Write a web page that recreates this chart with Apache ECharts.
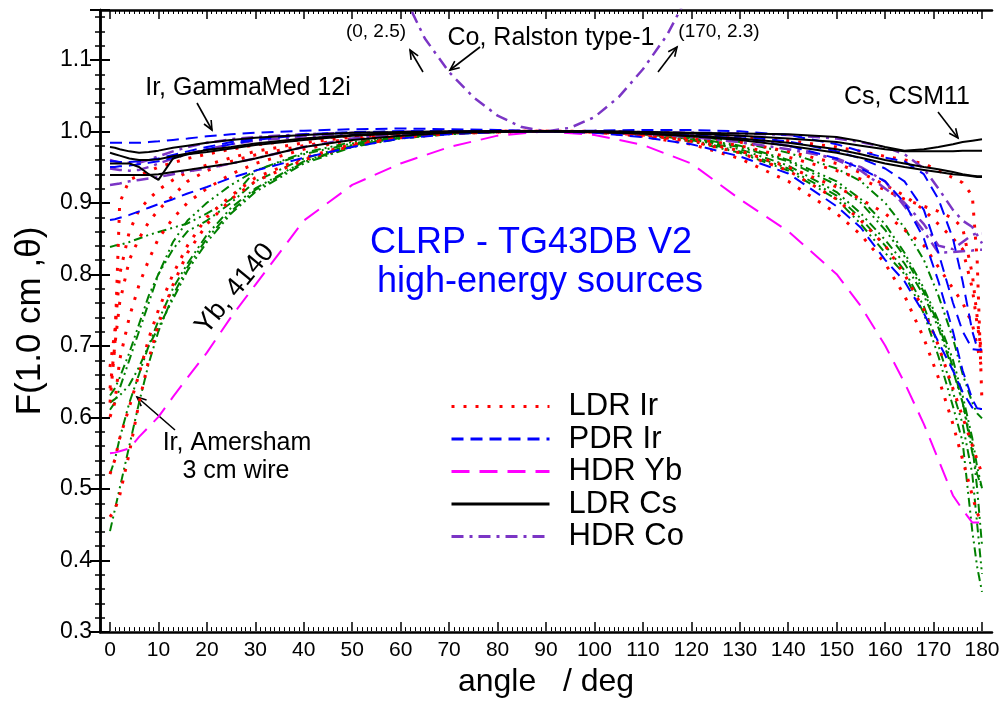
<!DOCTYPE html>
<html>
<head>
<meta charset="utf-8">
<script src="https://cdn.jsdelivr.net/npm/echarts@6/dist/echarts.min.js"></script>
<style>html,body{margin:0;padding:0;background:#fff}</style>
</head>
<body>
<div id="chart" style="width:1005px;height:703px"></div>
<script>
// polar angle grid shared by all source curves (deg)
const ANGLES = [0, 1, 2, 4, 6, 8, 10, 13, 16, 20, 25, 30, 40, 50, 60, 70, 80, 90, 100, 110, 120, 130, 140,
  150, 155, 160, 164, 168, 171, 174, 176, 178, 179, 180];

// LDR Ir (red dotted)
const LDR_IR_1 = [0.62, 0.70, 0.90, 0.932, 0.938, 0.944, 0.95, 0.956, 0.962, 0.968, 0.975, 0.981,
  0.989, 0.994, 0.997, 0.999, 1.0, 1.0, 1.0, 0.999, 0.997, 0.993, 0.987,
  0.978, 0.972, 0.965, 0.96, 0.955, 0.945, 0.935, 0.928, 0.91, 0.82, 0.62];
const LDR_IR_2 = [0.67, 0.72, 0.80, 0.86, 0.89, 0.905, 0.918, 0.932, 0.943, 0.953, 0.963, 0.972,
  0.984, 0.992, 0.997, 0.999, 1.0, 1.0, 0.999, 0.997, 0.993, 0.985, 0.972,
  0.955, 0.942, 0.925, 0.91, 0.89, 0.87, 0.85, 0.835, 0.78, 0.73, 0.69];
const LDR_IR_3 = [0.64, 0.70, 0.76, 0.82, 0.85, 0.873, 0.89, 0.91, 0.93, 0.945, 0.958, 0.967,
  0.98, 0.99, 0.996, 0.999, 1.0, 1.0, 0.999, 0.996, 0.99, 0.98, 0.964,
  0.945, 0.933, 0.918, 0.905, 0.895, 0.888, 0.878, 0.865, 0.80, 0.74, 0.68];
const LDR_IR_4 = [0.60, 0.62, 0.68, 0.74, 0.785, 0.82, 0.85, 0.878, 0.90, 0.92, 0.94, 0.955,
  0.975, 0.988, 0.995, 0.998, 1.0, 1.0, 0.999, 0.995, 0.987, 0.973, 0.95,
  0.922, 0.905, 0.885, 0.862, 0.84, 0.81, 0.78, 0.76, 0.73, 0.70, 0.666];
const LDR_IR_5 = [0.52, 0.54, 0.57, 0.614, 0.66, 0.71, 0.75, 0.80, 0.84, 0.88, 0.91, 0.935,
  0.963, 0.982, 0.992, 0.997, 0.999, 1.0, 0.999, 0.995, 0.986, 0.97, 0.945,
  0.905, 0.875, 0.84, 0.80, 0.75, 0.70, 0.64, 0.60, 0.56, 0.54, 0.52];
const LDR_IR_6 = [0.46, 0.47, 0.49, 0.55, 0.62, 0.68, 0.73, 0.785, 0.83, 0.87, 0.905, 0.93,
  0.96, 0.98, 0.991, 0.997, 0.999, 1.0, 0.999, 0.993, 0.982, 0.962, 0.93,
  0.885, 0.855, 0.815, 0.77, 0.71, 0.655, 0.59, 0.54, 0.49, 0.465, 0.454];

// PDR Ir (blue dashed)
const PDR_IR_1 = [0.984, 0.984, 0.984, 0.984, 0.984, 0.985, 0.986, 0.988, 0.99, 0.993, 0.996, 0.998,
  1.001, 1.003, 1.004, 1.003, 1.002, 1.0, 1.001, 1.002, 1.002, 1.0, 0.995,
  0.982, 0.972, 0.963, 0.958, 0.94, 0.905, 0.85, 0.79, 0.72, 0.697, 0.694];
const PDR_IR_2 = [0.958, 0.958, 0.957, 0.957, 0.958, 0.96, 0.962, 0.967, 0.972, 0.978, 0.985, 0.99,
  0.996, 0.999, 1.0, 1.0, 1.0, 1.0, 1.0, 0.999, 0.997, 0.993, 0.986,
  0.972, 0.962, 0.948, 0.93, 0.89, 0.83, 0.76, 0.72, 0.695, 0.694, 0.694];
const PDR_IR_3 = [0.95, 0.95, 0.951, 0.952, 0.954, 0.956, 0.958, 0.963, 0.968, 0.975, 0.982, 0.988,
  0.995, 0.998, 1.0, 1.0, 1.0, 1.0, 1.0, 0.998, 0.995, 0.99, 0.98,
  0.962, 0.948, 0.93, 0.9, 0.85, 0.79, 0.72, 0.665, 0.625, 0.612, 0.611];
const PDR_IR_4 = [0.876, 0.877, 0.879, 0.883, 0.888, 0.893, 0.898, 0.905, 0.913, 0.922, 0.935, 0.945,
  0.963, 0.978, 0.99, 0.996, 0.999, 1.0, 0.998, 0.992, 0.982, 0.965, 0.941,
  0.895, 0.865, 0.82, 0.79, 0.745, 0.705, 0.665, 0.635, 0.613, 0.611, 0.611];

// HDR Yb 4140 (magenta long dash)
const HDR_YB = [0.549, 0.55, 0.552, 0.556, 0.572, 0.586, 0.60, 0.628, 0.655, 0.69, 0.74, 0.785,
  0.875, 0.925, 0.955, 0.978, 0.994, 1.0, 0.995, 0.981, 0.955, 0.905, 0.86,
  0.80, 0.755, 0.70, 0.648, 0.59, 0.54, 0.49, 0.47, 0.452, 0.452, 0.452];

// LDR Cs (black solid)
const LDR_CS_1 = [0.978, 0.977, 0.975, 0.972, 0.97, 0.971, 0.973, 0.977, 0.98, 0.984, 0.988, 0.991,
  0.995, 0.998, 0.999, 1.0, 1.0, 1.0, 1.0, 0.999, 0.998, 0.997, 0.996,
  0.992, 0.986, 0.978, 0.973, 0.975, 0.978, 0.982, 0.985, 0.987, 0.988, 0.989];
const LDR_CS_2 = [0.97, 0.968, 0.966, 0.962, 0.96, 0.96, 0.961, 0.965, 0.969, 0.974, 0.978, 0.983,
  0.99, 0.995, 0.998, 0.999, 1.0, 1.0, 1.0, 0.999, 0.997, 0.994, 0.99,
  0.985, 0.98, 0.975, 0.972, 0.972, 0.972, 0.972, 0.973, 0.973, 0.973, 0.973];
const LDR_CS_3 = [0.955, 0.955, 0.955, 0.955, 0.95, 0.94, 0.932, 0.962, 0.968, 0.971, 0.976, 0.981,
  0.988, 0.994, 0.997, 0.999, 1.0, 1.0, 0.999, 0.997, 0.994, 0.99, 0.984,
  0.975, 0.968, 0.96, 0.955, 0.95, 0.947, 0.943, 0.94, 0.938, 0.937, 0.937];
const LDR_CS_4 = [0.939, 0.939, 0.939, 0.939, 0.939, 0.939, 0.94, 0.943, 0.946, 0.95, 0.955, 0.962,
  0.978, 0.988, 0.994, 0.998, 0.999, 1.0, 0.999, 0.997, 0.993, 0.988, 0.98,
  0.97, 0.963, 0.955, 0.95, 0.946, 0.943, 0.94, 0.939, 0.937, 0.936, 0.936];

// HDR Co (purple dash-dot)
const HDR_CO_1 = [0.96, 0.958, 0.956, 0.956, 0.956, 0.96, 0.965, 0.972, 0.978, 0.984, 0.989, 0.992,
  0.996, 0.998, 0.999, 1.0, 1.0, 1.0, 1.0, 0.999, 0.998, 0.997, 0.995,
  0.99, 0.985, 0.978, 0.968, 0.948, 0.92, 0.89, 0.875, 0.866, 0.855, 0.843];
const HDR_CO_2 = [0.925, 0.926, 0.927, 0.93, 0.932, 0.934, 0.936, 0.94, 0.944, 0.948, 0.955, 0.962,
  0.978, 0.99, 0.996, 0.999, 1.0, 1.0, 0.999, 0.997, 0.992, 0.985, 0.975,
  0.962, 0.95, 0.93, 0.895, 0.86, 0.83, 0.831, 0.832, 0.833, 0.834, 0.834];
const HDR_CO_3 = [0.948, 0.947, 0.946, 0.945, 0.946, 0.95, 0.955, 0.962, 0.968, 0.975, 0.982, 0.987,
  0.993, 0.997, 0.999, 1.0, 1.0, 1.0, 1.0, 0.998, 0.995, 0.99, 0.98,
  0.96, 0.945, 0.92, 0.9, 0.87, 0.84, 0.835, 0.845, 0.855, 0.857, 0.857];
// Co, Ralston type-1 has its own sampling
const RALSTON_ANGLES = [0, 20, 40, 50, 60, 65, 70, 75, 80, 85, 90, 95, 100, 105, 110, 115, 120, 140, 160, 170];
const RALSTON = [2.5, 2.1, 1.6, 1.38, 1.2, 1.13, 1.083, 1.048, 1.022, 1.006, 1.0, 1.005, 1.02, 1.048,
  1.087, 1.135, 1.2, 1.55, 2.0, 2.3];

// HDR Ir (green, not in legend)
const HDR_IR_1 = [0.62, 0.625, 0.63, 0.645, 0.67, 0.70, 0.725, 0.765, 0.805, 0.845, 0.885, 0.915,
  0.955, 0.978, 0.99, 0.996, 0.999, 1.0, 0.999, 0.995, 0.986, 0.97, 0.945,
  0.905, 0.87, 0.83, 0.80, 0.745, 0.685, 0.615, 0.565, 0.44, 0.39, 0.355];
const HDR_IR_2 = [0.44, 0.47, 0.50, 0.56, 0.62, 0.675, 0.72, 0.77, 0.81, 0.85, 0.888, 0.918,
  0.957, 0.979, 0.991, 0.997, 0.999, 1.0, 0.999, 0.996, 0.988, 0.972, 0.948,
  0.91, 0.878, 0.84, 0.805, 0.755, 0.70, 0.635, 0.59, 0.52, 0.45, 0.38];
const HDR_IR_3 = [0.52, 0.54, 0.57, 0.62, 0.66, 0.70, 0.735, 0.78, 0.815, 0.855, 0.893, 0.92,
  0.958, 0.98, 0.991, 0.997, 0.999, 1.0, 0.999, 0.996, 0.989, 0.975, 0.952,
  0.915, 0.885, 0.848, 0.815, 0.77, 0.725, 0.665, 0.62, 0.55, 0.52, 0.50];
const HDR_IR_4 = [0.838, 0.84, 0.841, 0.845, 0.85, 0.855, 0.859, 0.865, 0.871, 0.885, 0.905, 0.945,
  0.968, 0.983, 0.993, 0.997, 0.999, 1.0, 1.0, 0.998, 0.994, 0.985, 0.97,
  0.948, 0.93, 0.9, 0.865, 0.82, 0.77, 0.71, 0.66, 0.62, 0.605, 0.598];
const HDR_IR_5 = [0.61, 0.62, 0.64, 0.68, 0.72, 0.76, 0.80, 0.845, 0.875, 0.90, 0.925, 0.945,
  0.97, 0.985, 0.993, 0.998, 1.0, 1.0, 1.0, 0.997, 0.991, 0.98, 0.96,
  0.93, 0.905, 0.87, 0.83, 0.78, 0.735, 0.68, 0.63, 0.57, 0.53, 0.50];
const HDR_IR_6 = [0.63, 0.64, 0.655, 0.69, 0.73, 0.77, 0.80, 0.835, 0.86, 0.875, 0.90, 0.93,
  0.962, 0.981, 0.992, 0.997, 0.999, 1.0, 0.999, 0.996, 0.99, 0.978, 0.958,
  0.925, 0.90, 0.862, 0.825, 0.775, 0.73, 0.67, 0.62, 0.56, 0.50, 0.42];

const LEGEND_NAMES = ['LDR Ir', 'PDR Ir', 'HDR Yb', 'LDR Cs', 'HDR Co'];
const Y_TICKS_MIN = 0.3, Y_TICKS_MAX = 1.17;

const FONT = 'Liberation Sans, Arial, sans-serif';

const STYLES = {
  'LDR Ir': {color: '#ff0000', type: [3, 9], width: 3},
  'PDR Ir': {color: '#0000ff', type: [12, 7], width: 2},
  'HDR Yb': {color: '#ff00ff', type: [18, 10], width: 2},
  'LDR Cs': {color: '#000000', type: 'solid', width: 2},
  'HDR Co': {color: '#7b35c5', type: [12, 6, 3, 6], width: 2.5},
  'HDR Ir': {color: '#008000', type: [9, 4, 2, 4, 2, 4], width: 2}
};

function curve(name, values, angles) {
  const xs = angles || ANGLES;
  const st = STYLES[name];
  return {
    name: name,
    type: 'line',
    xAxisIndex: 2,
    yAxisIndex: 2,
    symbol: 'none',
    silent: true,
    clip: true,
    color: st.color,
    lineStyle: {color: st.color, type: st.type, width: st.width},
    data: xs.map((a, i) => [a, values[i]])
  };
}

function arrow(x1, y1, x2, y2) {
  const a = Math.atan2(y2 - y1, x2 - x1), h = 10, s = 0.42;
  return {
    type: 'group',
    silent: true,
    children: [
      {type: 'line', shape: {x1: x1, y1: y1, x2: x2, y2: y2}, style: {stroke: '#000', lineWidth: 1.6}},
      {type: 'polyline', shape: {points: [
        [x2 - h * Math.cos(a - s), y2 - h * Math.sin(a - s)], [x2, y2],
        [x2 - h * Math.cos(a + s), y2 - h * Math.sin(a + s)]]},
        style: {stroke: '#000', lineWidth: 1.6, fill: null}}
    ]
  };
}

function note(text, x, y, size, color, rotation) {
  return {
    type: 'text', x: x, y: y, rotation: rotation || 0, silent: true,
    style: {text: text, fontSize: size, fontFamily: FONT, fill: color || '#000', align: 'center', verticalAlign: 'middle'}
  };
}

const chart = echarts.init(document.getElementById('chart'));

const frameY = {
  type: 'value', gridIndex: 0, min: Y_TICKS_MIN, max: Y_TICKS_MAX, interval: 0.1,
  axisLine: {show: true, lineStyle: {color: '#000', width: 2.5}},
  axisTick: {inside: true, length: 10, lineStyle: {color: '#000', width: 2}},
  minorTick: {show: true, splitNumber: 5, length: 5, lineStyle: {color: '#000', width: 1.5}},
  splitLine: {show: false}
};
const dataX = {
  type: 'value', gridIndex: 1, min: 0, max: 180, interval: 10,
  axisLine: {show: false},
  axisTick: {inside: true, length: 9, lineStyle: {color: '#000', width: 1.5}},
  minorTick: {show: true, splitNumber: 10, length: 4, lineStyle: {color: '#000', width: 1}},
  splitLine: {show: false}
};

const option = {
  animation: false,
  backgroundColor: '#fff',
  grid: [
    {left: 100, right: 13, top: 10, bottom: 71},   // frame
    {left: 110, right: 23, top: 10, bottom: 71}    // data (0..180 deg)
  ],
  xAxis: [
    {type: 'value', gridIndex: 0, position: 'bottom', min: 0, max: 1,
      axisLine: {show: true, lineStyle: {color: '#000', width: 2.5}},
      axisTick: {show: false}, axisLabel: {show: false}, splitLine: {show: false}},
    {type: 'value', gridIndex: 0, position: 'top', min: 0, max: 1,
      axisLine: {show: true, lineStyle: {color: '#000', width: 2.5}},
      axisTick: {show: false}, axisLabel: {show: false}, splitLine: {show: false}},
    Object.assign({}, dataX, {
      position: 'bottom',
      name: 'angle   / deg', nameLocation: 'middle', nameGap: 28,
      nameTextStyle: {fontSize: 32, fontFamily: FONT, color: '#000'},
      axisLabel: {fontSize: 21, fontFamily: FONT, color: '#000', margin: 9}
    }),
    Object.assign({}, dataX, {position: 'top', axisLabel: {show: false}})
  ],
  yAxis: [
    Object.assign({}, frameY, {
      position: 'left',
      name: 'F(1.0 cm ,θ)', nameLocation: 'middle', nameGap: 52,
      nameTextStyle: {fontSize: 35, fontFamily: FONT, color: '#000'},
      axisLabel: {fontSize: 23, fontFamily: FONT, color: '#000', margin: 8,
        formatter: v => (v > 1.15 ? '' : v.toFixed(1))}
    }),
    Object.assign({}, frameY, {position: 'right', axisLabel: {show: false}}),
    {type: 'value', gridIndex: 1, min: Y_TICKS_MIN, max: Y_TICKS_MAX, show: false}
  ],
  legend: {
    data: LEGEND_NAMES,
    orient: 'vertical',
    left: 445,
    top: 386,
    itemWidth: 98,
    itemHeight: 14,
    itemGap: 1.5,
    selectedMode: false,
    itemStyle: {opacity: 0},
    lineStyle: {width: 3},
    textStyle: {fontSize: 31, fontFamily: FONT, color: '#000', padding: [0, 0, 0, 14]}
  },
  series: [
    curve('HDR Ir', HDR_IR_1), curve('HDR Ir', HDR_IR_2), curve('HDR Ir', HDR_IR_3),
    curve('HDR Ir', HDR_IR_4), curve('HDR Ir', HDR_IR_5), curve('HDR Ir', HDR_IR_6),
    curve('LDR Ir', LDR_IR_1), curve('LDR Ir', LDR_IR_2), curve('LDR Ir', LDR_IR_3),
    curve('LDR Ir', LDR_IR_4), curve('LDR Ir', LDR_IR_5), curve('LDR Ir', LDR_IR_6),
    curve('HDR Yb', HDR_YB),
    curve('HDR Co', HDR_CO_1), curve('HDR Co', HDR_CO_2), curve('HDR Co', HDR_CO_3),
    curve('HDR Co', RALSTON, RALSTON_ANGLES),
    curve('PDR Ir', PDR_IR_1), curve('PDR Ir', PDR_IR_2), curve('PDR Ir', PDR_IR_3), curve('PDR Ir', PDR_IR_4),
    curve('LDR Cs', LDR_CS_1), curve('LDR Cs', LDR_CS_2), curve('LDR Cs', LDR_CS_3), curve('LDR Cs', LDR_CS_4)
  ],
  graphic: [
    note('(0, 2.5)', 376, 32, 19),
    note('Co, Ralston type-1', 551, 38, 25),
    note('(170, 2.3)', 719, 32, 19),
    note('Ir, GammaMed 12i', 248, 88, 25),
    note('Cs, CSM11', 907, 97, 25),
    note('CLRP - TG43DB V2', 531, 243, 36, '#0000ff'),
    note('high-energy sources', 540, 282, 36, '#0000ff'),
    note('Yb, 4140', 235, 289, 27, '#000', 50.6 * Math.PI / 180),
    note('Ir, Amersham', 237, 443, 25),
    note('3 cm wire', 236, 471, 25),
    arrow(423, 72, 410, 50),
    arrow(480, 47, 450, 70),
    arrow(658, 72, 677, 47),
    arrow(197, 103, 212, 130),
    arrow(938, 112, 958, 138),
    arrow(175, 430, 137, 397)
  ]
};

chart.setOption(option);
</script>
</body>
</html>
